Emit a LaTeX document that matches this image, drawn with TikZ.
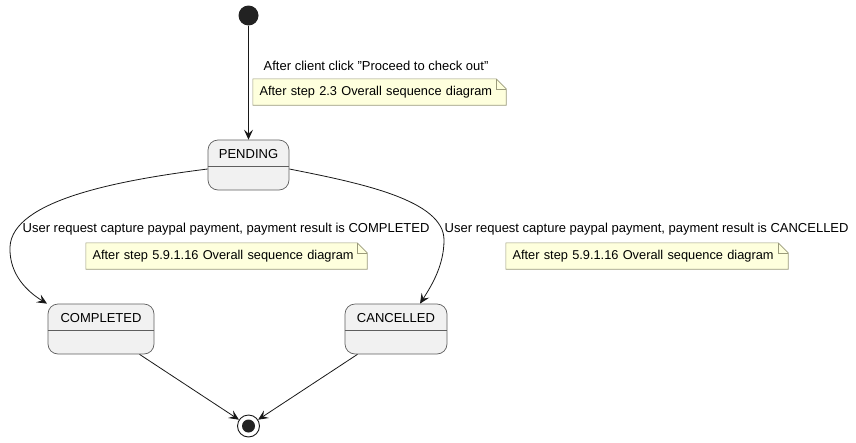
\documentclass[tikz,border=0pt]{standalone}
\usepackage{fontspec}
\setmainfont{Liberation Sans}[Ligatures=NoCommon]
\usetikzlibrary{arrows.meta,backgrounds,calc}
\definecolor{statefill}{HTML}{F1F1F1}
\definecolor{stateline}{HTML}{5E5E5E}
\definecolor{notefill}{HTML}{FEFFDD}
\definecolor{noteline}{HTML}{9A9A7A}
\definecolor{edgecol}{HTML}{181818}
\definecolor{dotcol}{HTML}{222222}
\tikzset{
  every node/.style={font=\fontsize{13}{15}\selectfont},
  statebox/.style={draw=stateline, fill=statefill, line width=0.7pt, rounded corners=10pt, inner sep=0pt},
  statetitle/.style={anchor=north, inner sep=0pt, yshift=-10pt},
  notebox/.style={inner xsep=6.5pt, inner ysep=0pt, minimum height=26pt, align=left, font=\fontsize{12.8}{15}\selectfont},
  lbl/.style={inner sep=0pt, anchor=west},
  edge/.style={draw=edgecol, line width=0.8pt, -{Stealth[length=10pt,width=9pt,inset=4pt]}},
}
\begin{document}
\begin{tikzpicture}[x=1pt,y=-1pt]
\useasboundingbox (0,0) rectangle (856,442);
% start and end
\node[circle, fill=dotcol, minimum size=20pt, inner sep=0pt] (start) at (248.5,15.5) {};
\node[circle, draw=edgecol, fill=white, line width=0.9pt, minimum size=22pt, inner sep=0pt] (end) at (248.5,426) {};
\fill[dotcol] (end.center) circle (6.5pt);
% states
\node[statebox, minimum width=81pt, minimum height=50pt, label={[statetitle]north:PENDING}] (pend) at (248.5,165) {};
\node[statebox, minimum width=106pt, minimum height=50pt, label={[statetitle]north:COMPLETED}] (comp) at (101,329) {};
\node[statebox, minimum width=102pt, minimum height=50pt, label={[statetitle]north:CANCELLED}] (canc) at (396,329) {};
\foreach \s in {pend,comp,canc}{
  \draw[stateline, line width=0.7pt] ([yshift=-27pt]\s.north west) -- ([yshift=-27pt]\s.north east);
}
% notes
\node[notebox, text width=240pt] (n1) at (379.5,92) {After step 2.3 Overall sequence diagram};
\node[notebox, text width=268pt] (n2) at (226.5,256) {After step 5.9.1.16 Overall sequence diagram};
\node[notebox, text width=269pt] (n3) at (647,256) {After step 5.9.1.16 Overall sequence diagram};
\begin{scope}[on background layer]
\foreach \n in {n1,n2,n3}{
  \draw[noteline, fill=notefill, line width=0.6pt]
    (\n.north west) -- ([xshift=-10pt]\n.north east) -- ([yshift=-10pt]\n.north east)
    -- (\n.south east) -- (\n.south west) -- cycle;
  \draw[noteline, line width=0.6pt] ([xshift=-10pt]\n.north east) -- ([xshift=-10pt,yshift=-10pt]\n.north east) -- ([yshift=-10pt]\n.north east);
}
\end{scope}
% labels
\node[lbl] (l1) at (263.5,65.5) {After client click \symbol{34}Proceed to check out\symbol{34}};
\node[lbl] (l2) at (22.5,229) {User request capture paypal payment, payment result is COMPLETED};
\node[lbl] (l3) at (444.5,229) {User request capture paypal payment, payment result is CANCELLED};
% edges
\draw[edge] (start) -- (pend);
\draw[edge] (pend.west |- 0,169) .. controls (120,180) and (12,200) .. (10,247)
   .. controls (9,275) and (28,292) .. (comp.north west -| 47,0);
\draw[edge] (pend.east |- 0,169) .. controls (360,183) and (444,200) .. (444,240)
   .. controls (444,265) and (432,285) .. (canc.north west -| 420,0);
\draw[edge] (comp) -- (end);
\draw[edge] (canc) -- (end);
\end{tikzpicture}
\end{document}
